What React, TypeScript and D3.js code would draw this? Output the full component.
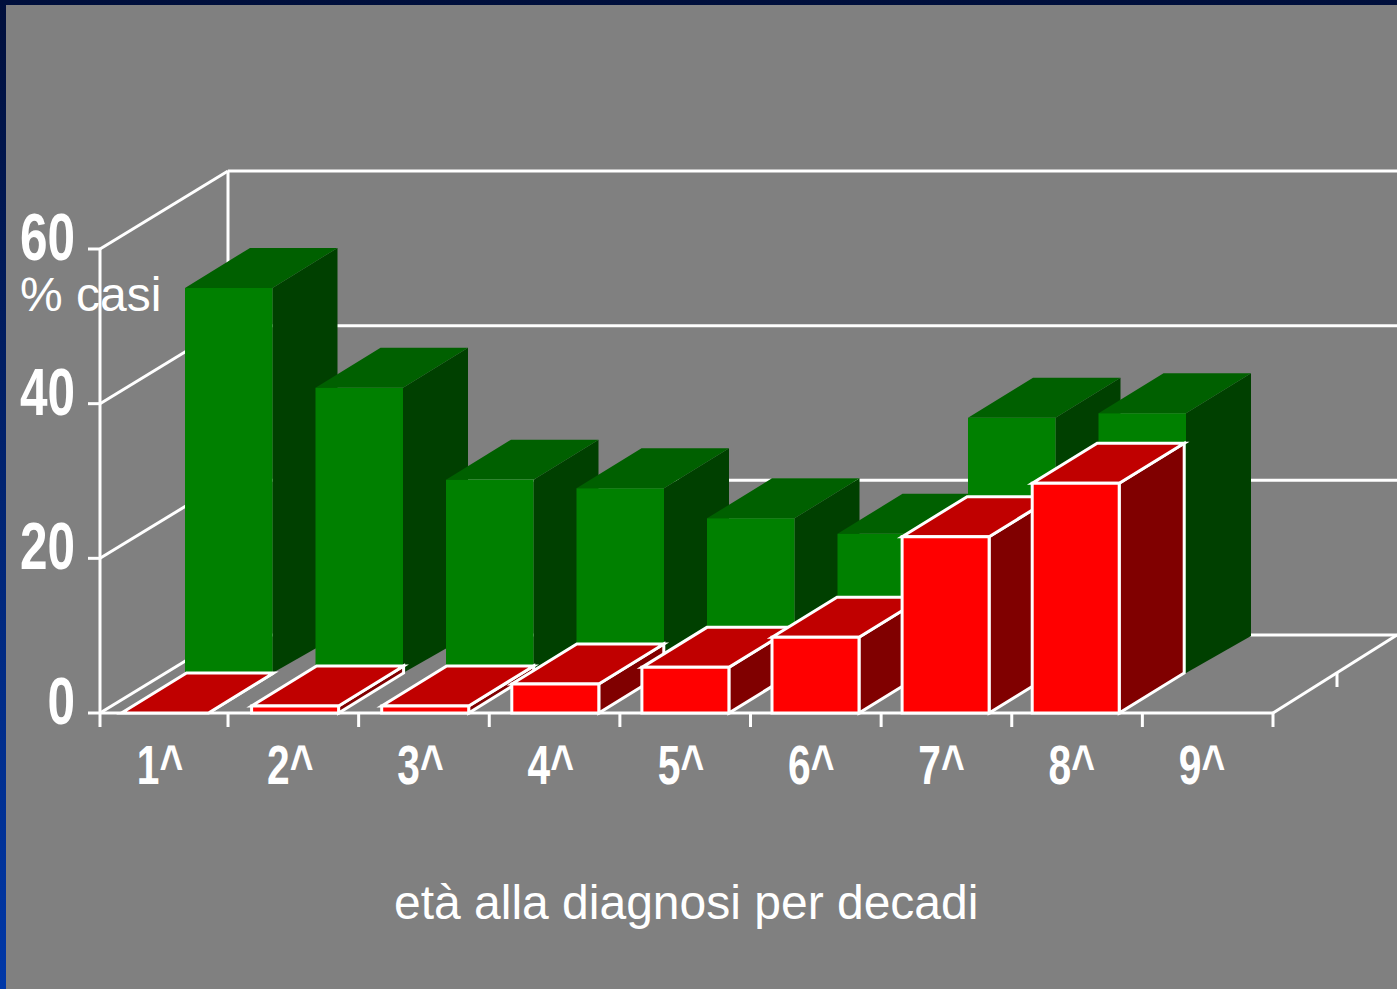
import React from "react";
import * as d3 from "d3";

const W = 1397, H = 989;
const categories = ["1^", "2^", "3^", "4^", "5^", "6^", "7^", "8^", "9^"];
const greenValues = [49.8, 36.9, 25, 23.9, 20, 18, 33, 33.6];
const redValues = [0, 0.9, 0.9, 3.75, 5.9, 9.8, 22.8, 29.7];
const yTicks = [0, 20, 40, 60];

const y = d3.scaleLinear().domain([0, 60]).range([713, 249]);
const tickX = d3.scaleLinear().domain([0, 9]).range([97.4, 1273]);
const labelX = d3.scaleLinear().domain([0, 8]).range([160, 1202]);
const redX = d3.scaleLinear().domain([0, 1]).range([121.5, 251.6]);
const greenX = d3.scaleLinear().domain([0, 1]).range([185, 315.5]);

const WALL = { dx: 128, dy: -78 };
const GREEN_BAR = { w: 87.5, dx: 65, dy: -40, baseDy: -37 };
const RED_BAR = { w: 87, dx: 65, dy: -40, baseDy: -40 };
const GREEN_BASE = 40; // green row sits this many px above the front plane
const STROKE = "#fff";
const SW = 3;
const poly = (pts: number[][]) => d3.line()(pts as [number, number][]) + "Z";

function Bar({ x, top, base, fills, geo, stroke }: { x: number; top: number; base: number; fills: string[]; geo: typeof RED_BAR; stroke?: boolean }) {
  const r = x + geo.w;
  const { dx, dy, baseDy } = geo;
  const s = stroke ? { stroke: STROKE, strokeWidth: SW, strokeLinejoin: "miter" as const } : { stroke: "none" };
  return (
    <g>
      <path d={poly([[r, top], [r + dx, top + dy], [r + dx, base + baseDy], [r, base]])} fill={fills[2]} {...s} />
      <path d={poly([[x, top], [x + dx, top + dy], [r + dx, top + dy], [r, top]])} fill={fills[1]} {...s} />
      {base - top > 0 && <path d={poly([[x, top], [r, top], [r, base], [x, base]])} fill={fills[0]} {...s} />}
    </g>
  );
}

export default function App() {
  const x0 = 100, xEnd = 1273;
  const back = (v: number) => y(v) + WALL.dy;
  const line = { stroke: STROKE, strokeWidth: SW, fill: "none" };
  const catY = 784;
  return (
    <svg width={W} height={H} viewBox={`0 0 ${W} ${H}`} style={{ position: "absolute", left: 0, top: 0, display: "block" }}>
      <defs>
        <linearGradient id="edge" x1="0" y1="0" x2="0" y2="1">
          <stop offset="0" stopColor="#000f3c" />
          <stop offset="1" stopColor="#0038a8" />
        </linearGradient>
      </defs>
      <rect width={W} height={H} fill="url(#edge)" />
      <rect x={6} y={5} width={W - 6} height={H - 5} fill="#808080" />

      {/* walls and floor */}
      {yTicks.map((v) => (
        <g key={v}>
          <line x1={x0 + WALL.dx} x2={W} y1={back(v)} y2={back(v)} {...line} />
          <line x1={x0} x2={x0 + WALL.dx} y1={y(v)} y2={back(v)} {...line} />
          <line x1={88} x2={x0} y1={y(v)} y2={y(v)} {...line} />
        </g>
      ))}
      <line x1={x0} x2={x0} y1={y(0)} y2={y(60)} {...line} />
      <line x1={x0 + WALL.dx} x2={x0 + WALL.dx} y1={back(0)} y2={back(60)} {...line} />
      <line x1={x0} x2={xEnd} y1={y(0)} y2={y(0)} {...line} />
      <line x1={xEnd} x2={xEnd + 124} y1={y(0)} y2={y(0) + WALL.dy} {...line} />
      <line x1={xEnd + 64} x2={xEnd + 64} y1={y(0) - 40} y2={y(0) - 26} {...line} />
      {categories.map((c, i) => (
        <line key={c} x1={Math.max(x0, tickX(i))} x2={Math.max(x0, tickX(i))} y1={y(0)} y2={y(0) + 14} {...line} />
      ))}
      <line x1={xEnd} x2={xEnd} y1={y(0)} y2={y(0) + 14} {...line} />

      {/* bars */}
      {greenValues.map((v, i) => (
        <Bar key={i} x={greenX(i)} top={y(v) - GREEN_BASE} base={y(0) - GREEN_BASE} geo={GREEN_BAR} fills={["#008000", "#006000", "#004000"]} />
      ))}
      {redValues.map((v, i) => (
        <Bar key={i} x={redX(i)} top={y(v)} base={y(0)} geo={RED_BAR} fills={["#ff0000", "#c00000", "#800000"]} stroke />
      ))}

      {/* labels */}
      <g fontFamily="'Liberation Sans', Arial, sans-serif" fill="#fff">
        {yTicks.map((v) => (
          <text key={v} x={75} y={y(v) + 11} fontSize={66} fontWeight={700} textAnchor="end"
            transform={`translate(75 0) scale(0.75 1) translate(-75 0)`}>{v}</text>
        ))}
        {categories.map((c, i) => {
          const cx = labelX(i);
          return (
            <text key={c} x={cx} y={catY} fontSize={55} fontWeight={700} textAnchor="middle"
              transform={`translate(${cx} 0) scale(0.74 1) translate(${-cx} 0)`}>{c}</text>
          );
        })}
        <text x={20} y={311} fontSize={48}>% casi</text>
        <text x={394} y={919} fontSize={48}>età alla diagnosi per decadi</text>
      </g>
    </svg>
  );
}
